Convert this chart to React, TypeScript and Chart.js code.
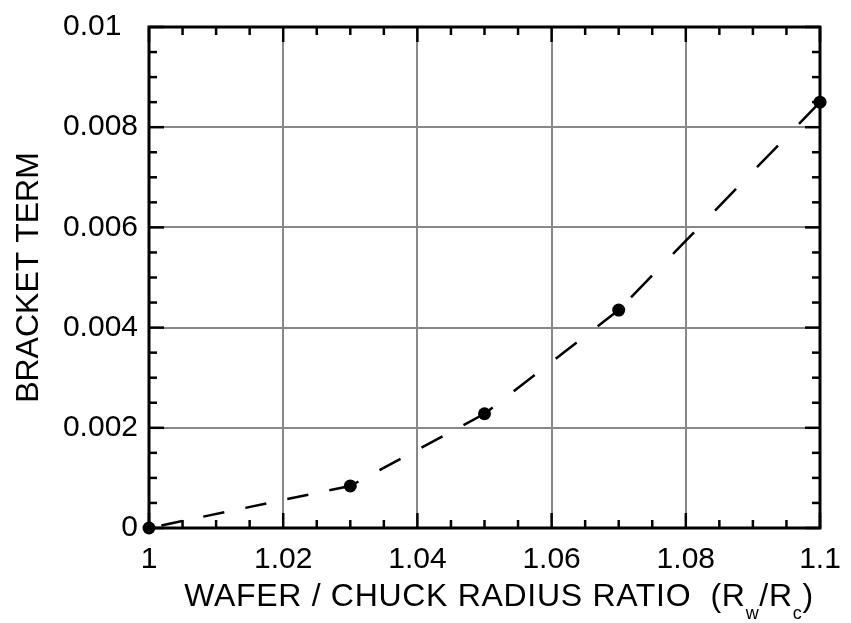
import { useEffect, useRef } from "react";
import { Chart, registerables } from "chart.js";

Chart.register(...registerables);

const RATIO = [1, 1.03, 1.05, 1.07, 1.1];
const BRACKET = [0, 0.00084, 0.00228, 0.00435, 0.0085];

const X_TICKS = [1, 1.02, 1.04, 1.06, 1.08, 1.1];
const X_TICK_LABELS = ["1", "1.02", "1.04", "1.06", "1.08", "1.1"];
const Y_TICKS = [0, 0.002, 0.004, 0.006, 0.008, 0.01];
const Y_TICK_LABELS = ["0", "0.002", "0.004", "0.006", "0.008", "0.01  "];
const X_MINOR_STEP = 0.005;
const Y_MINOR_STEP = 0.0005;

const Y_TITLE = "BRACKET TERM";
const X_TITLE_PARTS = [
  { text: "WAFER / CHUCK RADIUS RATIO  (R", sub: false },
  { text: "w", sub: true },
  { text: "/R", sub: false },
  { text: "c", sub: true },
  { text: ")", sub: false },
];

const FONT = "'Liberation Sans', Arial, Helvetica, sans-serif";

const framePlugin = {
  id: "frameTicks",
  beforeDatasetsDraw(chart: any) {
    const { ctx, chartArea: a, scales } = chart;
    const xs = scales.x;
    const ys = scales.y;
    ctx.save();
    ctx.strokeStyle = "#000";
    ctx.lineCap = "butt";
    ctx.lineWidth = 2.5;
    const seg = (x1: number, y1: number, x2: number, y2: number) => {
      ctx.beginPath();
      ctx.moveTo(x1, y1);
      ctx.lineTo(x2, y2);
      ctx.stroke();
    };
    const nX = Math.round((xs.max - xs.min) / X_MINOR_STEP);
    for (let i = 0; i <= nX; i++) {
      const px = xs.getPixelForValue(xs.min + i * X_MINOR_STEP);
      const len = i % 4 === 0 ? 15 : 8;
      seg(px, a.top, px, a.top + len);
      seg(px, a.bottom, px, a.bottom - len);
    }
    const nY = Math.round((ys.max - ys.min) / Y_MINOR_STEP);
    for (let i = 0; i <= nY; i++) {
      const py = ys.getPixelForValue(ys.min + i * Y_MINOR_STEP);
      const len = i % 4 === 0 ? 15 : 8;
      seg(a.left, py, a.left + len, py);
      seg(a.right, py, a.right - len, py);
    }
    ctx.lineWidth = 3;
    ctx.strokeRect(a.left, a.top, a.right - a.left, a.bottom - a.top);
    ctx.restore();
  },
};

const xTitlePlugin = {
  id: "xTitle",
  afterDraw(chart: any) {
    const ctx = chart.ctx;
    ctx.save();
    ctx.fillStyle = "#000";
    ctx.textAlign = "left";
    ctx.textBaseline = "alphabetic";
    (ctx as any).letterSpacing = "0.7px";
    const mainFont = `32px ${FONT}`;
    const subFont = `18px ${FONT}`;
    let total = 0;
    const widths = X_TITLE_PARTS.map((p) => {
      ctx.font = p.sub ? subFont : mainFont;
      const w = ctx.measureText(p.text).width;
      total += w;
      return w;
    });
    const centerX = 499;
    const baseline = 606;
    let x = centerX - total / 2;
    X_TITLE_PARTS.forEach((p, i) => {
      ctx.font = p.sub ? subFont : mainFont;
      ctx.fillText(p.text, x, p.sub ? baseline + 13 : baseline);
      x += widths[i];
    });
    ctx.restore();
  },
};

const DASH_X = 21;

export default function App() {
  const canvasRef = useRef<HTMLCanvasElement | null>(null);

  useEffect(() => {
    if (!canvasRef.current) return;
    const chart = new Chart(canvasRef.current, {
      type: "line",
      data: {
        datasets: [
          {
            data: RATIO.map((r, i) => ({ x: r, y: BRACKET[i] })),
            borderColor: "#000",
            borderWidth: 2.5,
            backgroundColor: "#000",
            pointRadius: 6.5,
            pointHoverRadius: 6.5,
            pointBackgroundColor: "#000",
            pointBorderColor: "#000",
            pointBorderWidth: 0,
            tension: 0,
            fill: false,
            clip: false as any,
            segment: {
              borderDash: (c: any) => {
                const dx = Math.abs(c.p1.x - c.p0.x) || 1;
                const L = Math.hypot(c.p1.x - c.p0.x, c.p1.y - c.p0.y);
                const f = L / dx;
                return [DASH_X * f, DASH_X * f];
              },
              borderDashOffset: (c: any) => {
                const dx = Math.abs(c.p1.x - c.p0.x) || 1;
                const L = Math.hypot(c.p1.x - c.p0.x, c.p1.y - c.p0.y);
                const f = L / dx;
                const d = DASH_X * f;
                const P = 2 * d;
                return d - (L % P);
              },
            },
          },
        ],
      },
      options: {
        responsive: false,
        animation: false,
        events: [],
        layout: { padding: { top: 27, right: 31, left: 0, bottom: 0 } },
        plugins: {
          legend: { display: false },
          tooltip: { enabled: false },
        },
        scales: {
          x: {
            type: "linear",
            min: 1,
            max: 1.1,
            afterBuildTicks: (scale: any) => {
              scale.ticks = X_TICKS.map((v) => ({ value: v }));
            },
            afterFit: (scale: any) => {
              scale.height = 95;
              scale.paddingLeft = 0;
              scale.paddingRight = 0;
            },
            ticks: {
              autoSkip: false,
              maxRotation: 0,
              minRotation: 0,
              padding: 14,
              color: "#000",
              font: { family: FONT, size: 30 },
              callback: (_v: any, i: number) => X_TICK_LABELS[i],
            },
            grid: {
              color: "#888",
              lineWidth: 2,
              drawTicks: false,
            },
            border: { display: false },
          },
          y: {
            type: "linear",
            min: 0,
            max: 0.01,
            afterBuildTicks: (scale: any) => {
              scale.ticks = Y_TICKS.map((v) => ({ value: v }));
            },
            afterFit: (scale: any) => {
              scale.width = 149;
              scale.paddingTop = 0;
              scale.paddingBottom = 0;
            },
            ticks: {
              autoSkip: false,
              padding: 11,
              color: "#000",
              font: { family: FONT, size: 30 },
              callback: (_v: any, i: number) => Y_TICK_LABELS[i],
            },
            grid: {
              color: "#888",
              lineWidth: 2,
              drawTicks: false,
            },
            border: { display: false },
            title: {
              display: true,
              text: Y_TITLE,
              color: "#000",
              font: { family: FONT, size: 32 },
              padding: { top: 10, bottom: 0 },
            },
          },
        },
      },
      plugins: [framePlugin, xTitlePlugin],
    } as any);
    return () => chart.destroy();
  }, []);

  return (
    <div style={{ position: "fixed", left: 0, top: 0, width: 851, height: 623, background: "#fff" }}>
      <canvas ref={canvasRef} width={851} height={623} style={{ display: "block" }} />
    </div>
  );
}
